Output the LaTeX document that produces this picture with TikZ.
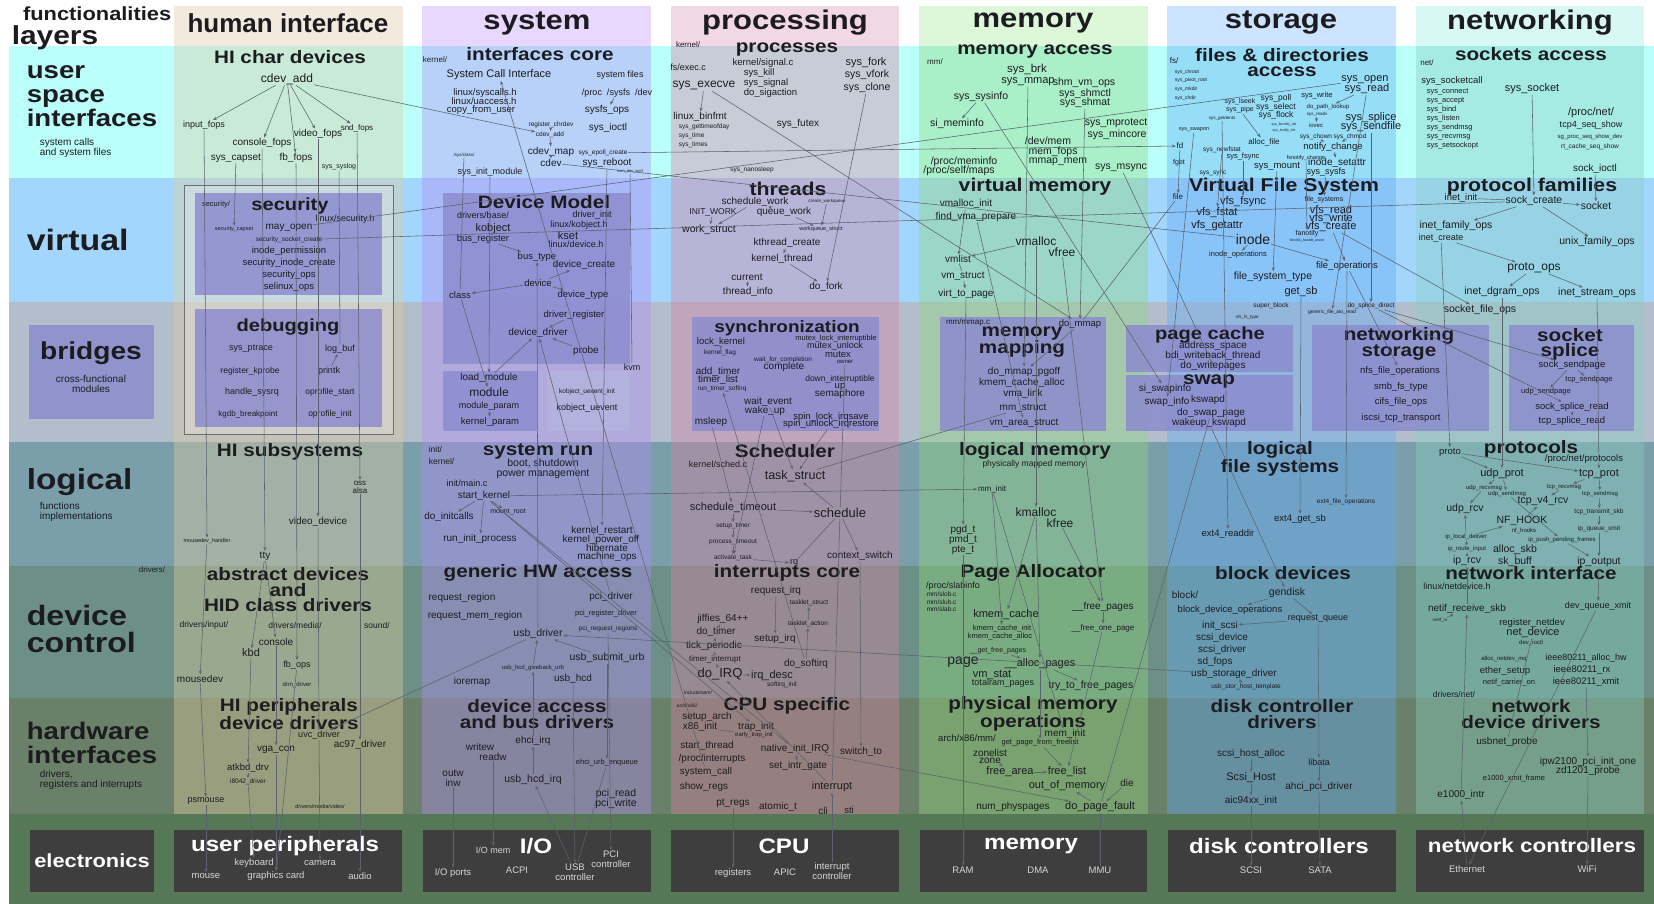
\documentclass[tikz,border=0pt]{standalone}
\usepackage{fontspec}
\setmainfont{Liberation Sans}
\newfontfamily\tf[FakeStretch=1.15]{Liberation Sans}
\usetikzlibrary{arrows.meta}
\definecolor{txt}{RGB}{28,28,32}
\definecolor{edg}{RGB}{92,98,110}
\definecolor{rU}{RGB}{186,255,250}
\definecolor{rV}{RGB}{163,214,252}
\definecolor{rB}{RGB}{178,190,204}
\definecolor{rL}{RGB}{122,158,170}
\definecolor{rD}{RGB}{108,144,134}
\definecolor{rH}{RGB}{106,128,104}
\definecolor{rE}{RGB}{86,120,86}
\definecolor{hHI}{RGB}{243,234,222}
\definecolor{hSY}{RGB}{232,216,255}
\definecolor{hPR}{RGB}{242,216,228}
\definecolor{hME}{RGB}{220,248,216}
\definecolor{hST}{RGB}{204,228,255}
\definecolor{hNE}{RGB}{216,248,245}
\definecolor{cHI}{RGB}{223,204,160}
\definecolor{cSY}{RGB}{180,140,245}
\definecolor{cPR}{RGB}{217,130,162}
\definecolor{cME}{RGB}{145,215,125}
\definecolor{cST}{RGB}{98,170,245}
\definecolor{cNE}{RGB}{135,207,193}
\definecolor{pbox}{RGB}{140,140,206}
\definecolor{frameC}{RGB}{110,110,115}
\definecolor{dark}{RGB}{62,62,62}
\definecolor{etxt}{RGB}{214,214,214}
\tikzset{
 tx/.style={inner sep=0.6pt, text=txt, align=center, font=\fontsize{10}{10}\selectfont},
 fz/.style={font=\fontsize{#1}{#1}\selectfont},
 bt/.style 2 args={font=\tf\fontsize{#1}{#2}\selectfont\bfseries},
 btn/.style 2 args={font=\fontsize{#1}{#2}\selectfont\bfseries},
 et/.style={inner sep=0.6pt, text=etxt, align=center, font=\fontsize{#1}{#1}\selectfont},
 etb/.style={inner sep=0.6pt, text=white, align=center, font=\tf\fontsize{#1}{#1}\selectfont\bfseries},
 ar/.style={draw=edg, line width=0.55pt, -{Stealth[length=4pt,width=3pt]}},
 ln/.style={draw=edg, line width=0.55pt},
 pb/.style={fill=pbox, fill opacity=0.85},
 db/.style={fill=dark},
}
\begin{document}
\begin{tikzpicture}[x=1pt,y=-1pt]
\useasboundingbox (0,0) rectangle (1654,904);
% ---------- rows
\fill[rU] (9,46) rectangle (1654,178);
\fill[rV] (9,178) rectangle (1654,302);
\fill[rB] (9,302) rectangle (1654,442);
\fill[rL] (9,442) rectangle (1654,566);
\fill[rD] (9,566) rectangle (1654,698);
\fill[rH] (9,698) rectangle (1654,814);
\fill[rE] (9,814) rectangle (1654,904);
% ---------- headers
\fill[hHI] (174,6) rectangle (403,46);
\fill[hSY] (422,6) rectangle (651,46);
\fill[hPR] (671,6) rectangle (899,46);
\fill[hME] (919,6) rectangle (1148,46);
\fill[hST] (1167,6) rectangle (1396,46);
\fill[hNE] (1416,6) rectangle (1644,46);
% ---------- column overlays
\foreach \xa/\xb/\cc in {174/403/cHI,422/651/cSY,671/899/cPR,919/1148/cME,1167/1396/cST,1416/1644/cNE}
  {\fill[fill=\cc, opacity=0.4] (\xa,46) rectangle (\xb,814);}
% ---------- bridge boxes
\fill[white, opacity=0.22] (184,185) rectangle (393,434);
\draw[frameC, line width=0.9pt] (184,185) rectangle (393,434);
\fill[pb] (195,193) rectangle (382,295);
\fill[pb] (195,309) rectangle (382,427);
\fill[pb] (29,325) rectangle (154,419);
\fill[pb] (443,193) rectangle (630,364);
\fill[pb] (443,371) rectangle (537,431);
\fill[pbox!65!white, fill opacity=0.7] (547,371) rectangle (630,431);
\fill[pb] (692,317) rectangle (879,431);
\fill[pb] (940,317) rectangle (1106,431);
\fill[pb] (1126,325) rectangle (1293,372);
\fill[pb] (1126,375) rectangle (1293,431);
\fill[pb] (1312,325) rectangle (1489,431);
\fill[pb] (1509,325) rectangle (1634,431);
% ---------- electronics boxes
\fill[db] (30,830) rectangle (154,892);
\fill[db] (174,830) rectangle (402,892);
\fill[db] (423,830) rectangle (651,892);
\fill[db] (671,830) rectangle (899,892);
\fill[db] (920,830) rectangle (1147,892);
\fill[db] (1168,830) rectangle (1396,892);
\fill[db] (1416,830) rectangle (1644,892);

% ================= left labels
\node[tx,bt={19}{19},anchor=east] (Lfunc) at (172,14) {functionalities};
\node[tx,bt={26}{26},anchor=west] (Llay) at (11,38) {layers};
\node[tx,bt={24}{24},anchor=west,align=left] (Luser) at (26,96) {user\\space\\interfaces};
\node[tx,fz=10,anchor=west,align=left] (Lusers) at (39,148) {system calls\\and system files};
\node[tx,bt={29.5}{29.5},anchor=west] (Lvirt) at (26,240) {virtual};
\node[tx,bt={24.5}{24.5}] (Lbr) at (91,353) {bridges};
\node[tx,fz=10] (Lbrs) at (91,384) {cross-functional\\modules};
\node[tx,bt={29}{29},anchor=west] (Llog) at (26,482) {logical};
\node[tx,fz=10,anchor=west,align=left] (Llogs) at (39,512) {functions\\implementations};
\node[tx,bt={28}{26.5},anchor=west,align=left] (Ldev) at (26,629) {device\\control};
\node[tx,bt={24}{24},anchor=west,align=left] (Lhw) at (26,743) {hardware\\interfaces};
\node[tx,fz=10,anchor=west,align=left] (Lhws) at (39,780) {drivers,\\registers and interrupts};
\node[etb=19] (Lel) at (92,861) {electronics};

% ================= headers text
\node[tx,btn={26}{26}] (Hhi) at (288,23) {human interface};
\node[tx,bt={27}{27}] (Hsy) at (537,23) {system};
\node[tx,bt={27}{27}] (Hpr) at (785,23) {processing};
\node[tx,bt={27}{27}] (Hme) at (1033,23) {memory};
\node[tx,bt={27}{27}] (Hst) at (1281,23) {storage};
\node[tx,bt={27}{27}] (Hne) at (1530,23) {networking};

% ================= HUMAN INTERFACE
\node[tx,bt={18}{18}] (hicd) at (290,57) {HI char devices};
\node[tx,fz=12] (hcdevadd) at (287,79) {cdev\_add};
\node[tx,fz=9] (inputfops) at (204,125) {input\_fops};
\node[tx,fz=10] (consolefops) at (262,143) {console\_fops};
\node[tx,fz=10] (videofops) at (318,134) {video\_fops};
\node[tx,fz=8] (sndfops) at (357,128) {snd\_fops};
\node[tx,fz=10] (syscapset) at (236,158) {sys\_capset};
\node[tx,fz=10] (fbfops) at (296,158) {fb\_fops};
\node[tx,fz=7] (syssyslog) at (339,167) {sys\_syslog};
\node[tx,fz=7.5] (secdir) at (216,205) {security/};
\node[tx,bt={17.5}{17.5}] (sect) at (290,206) {security};
\node[tx,fz=9] (sech) at (345,219) {linux/security.h};
\node[tx,fz=5.5] (seccapset) at (234,229) {security\_capset};
\node[tx,fz=10] (mayopen) at (289,228) {may\_open};
\node[tx,fz=6.5] (secsock) at (289,240) {security\_socket\_create};
\node[tx,fz=9.5] (inodeperm) at (289,251) {inode\_permission};
\node[tx,fz=9.5] (secinode) at (289,263) {security\_inode\_create};
\node[tx,fz=9.5] (secops) at (289,275) {security\_ops};
\node[tx,fz=9.5] (selinux) at (289,287) {selinux\_ops};
\node[tx,bt={17.5}{17.5}] (dbgt) at (288,327) {debugging};
\node[tx,fz=9] (ptrace) at (251,349) {sys\_ptrace};
\node[tx,fz=9] (logbuf) at (340,349) {log\_buf};
\node[tx,fz=8.5] (kprobe) at (250,371) {register\_kprobe};
\node[tx,fz=9] (printk) at (329,371) {printk};
\node[tx,fz=9] (sysrq) at (252,392) {handle\_sysrq};
\node[tx,fz=8.5] (opstart) at (330,392) {oprofile\_start};
\node[tx,fz=8] (kgdb) at (248,414) {kgdb\_breakpoint};
\node[tx,fz=8.5] (opinit) at (330,414) {oprofile\_init};
\node[tx,bt={18}{18}] (hisub) at (290,452) {HI subsystems};
\node[tx,fz=8] (ossalsa) at (360,487) {oss\\alsa};
\node[tx,fz=10] (videodev) at (318,522) {video\_device};
\node[tx,fz=5.5] (mousedevh) at (207,541) {mousedev\_handler};
\node[tx,fz=10] (tty) at (265,556) {tty};
\node[tx,fz=8] (drivers) at (152,570) {drivers/};
\node[tx,bt={18}{15.5}] (abst) at (288,590) {abstract devices\\and\\HID class drivers};
\node[tx,fz=8.5] (drvinput) at (204,625) {drivers/input/};
\node[tx,fz=8.5] (drvmedia) at (295,625) {drivers/media/};
\node[tx,fz=8.5] (sound) at (377,625) {sound/};
\node[tx,fz=10] (console) at (276,642) {console};
\node[tx,fz=11] (kbd) at (251,653) {kbd};
\node[tx,fz=9] (fbops) at (297,665) {fb\_ops};
\node[tx,fz=10] (mousedev) at (200,679) {mousedev};
\node[tx,fz=6] (drm) at (297,685) {drm\_driver};
\node[tx,bt={18}{16}] (hiper) at (289,714) {HI peripherals\\device drivers};
\node[tx,fz=9] (uvc) at (319,735) {uvc\_driver};
\node[tx,fz=10] (ac97) at (360,745) {ac97\_driver};
\node[tx,fz=10] (vgacon) at (276,750) {vga\_con};
\node[tx,fz=9.5] (atkbd) at (248,768) {atkbd\_drv};
\node[tx,fz=6.5] (i8042) at (248,782) {i8042\_driver};
\node[tx,fz=9] (psmouse) at (206,801) {psmouse};
\node[tx,fz=5.5] (dmv) at (320,807) {drivers/media/video/};
\node[etb=21] (uper) at (285,846) {user peripherals};
\node[et=9.5] (keyboard) at (254,863) {keyboard};
\node[et=9.5] (camera) at (320,863) {camera};
\node[et=9.5] (mouse) at (206,876) {mouse};
\node[et=9.5] (gcard) at (276,876) {graphics card};
\node[et=9.5] (audio) at (360,876) {audio};

% ================= SYSTEM
\node[tx,fz=8] (kern1) at (435,60) {kernel/};
\node[tx,bt={18}{18}] (ict) at (540,54) {interfaces core};
\node[tx,fz=11] (sci) at (499,75) {System Call Interface};
\node[tx,fz=9.5] (syscallsh) at (485,93) {linux/syscalls.h};
\node[tx,fz=9.5] (uaccessh) at (484,101) {linux/uaccess.h};
\node[tx,fz=9.5] (cfu) at (481,110) {copy\_from\_user};
\node[tx,fz=9] (sysfiles) at (620,75) {system files};
\node[tx,fz=9] (procsysfs) at (617,93) {/proc~~/sysfs~~/dev};
\node[tx,fz=10] (sysfsops) at (607,110) {sysfs\_ops};
\node[tx,fz=6.5] (regchr) at (551,125) {register\_chrdev};
\node[tx,fz=10] (sysioctl) at (608,128) {sys\_ioctl};
\node[tx,fz=6.5] (scdevadd) at (550,135) {cdev\_add};
\node[tx,fz=10] (cdevmap) at (551,152) {cdev\_map};
\node[tx,fz=6.5] (epoll) at (603,153) {sys\_epoll\_create};
\node[tx,fz=10] (cdev) at (551,163) {cdev};
\node[tx,fz=10] (sysreboot) at (607,163) {sys\_reboot};
\node[tx,fz=4.5] (sysclass) at (464,155) {/sys/class/};
\node[tx,fz=9] (sysinit) at (490,172) {sys\_init\_module};
\node[tx,fz=4] (kvmioctl) at (630,171) {kvm\_dev\_ioctl};
\node[tx,bt={18}{18}] (dmt) at (544,202) {Device Model};
\node[tx,fz=9] (drvbase) at (483,215) {drivers/base/};
\node[tx,fz=9] (drvinit) at (592,215) {driver\_init};
\node[tx,fz=11] (kobject) at (493,229) {kobject};
\node[tx,fz=9] (kobjh) at (579,225) {linux/kobject.h};
\node[tx,fz=11] (kset) at (568,236) {kset};
\node[tx,fz=9.5] (busreg) at (483,239) {bus\_register};
\node[tx,fz=9] (deviceh) at (576,244) {linux/device.h};
\node[tx,fz=9.5] (bustype) at (537,257) {bus\_type};
\node[tx,fz=10] (devcreate) at (584,265) {device\_create};
\node[tx,fz=9.5] (device) at (538,283) {device};
\node[tx,fz=9.5] (class) at (460,295) {class};
\node[tx,fz=9.5] (devtype) at (583,295) {device\_type};
\node[tx,fz=9.5] (drvreg) at (574,315) {driver\_register};
\node[tx,fz=10] (devdrv) at (538,333) {device\_driver};
\node[tx,fz=10] (probe) at (586,351) {probe};
\node[tx,fz=9] (kvm) at (632,367) {kvm};
\node[tx,fz=10] (loadmod) at (489,378) {load\_module};
\node[tx,fz=12] (module) at (489,392) {module};
\node[tx,fz=9] (modparam) at (489,406) {module\_param};
\node[tx,fz=9.5] (kparam) at (490,422) {kernel\_param};
\node[tx,fz=6.5] (kuinit) at (587,392) {kobject\_uevent\_init};
\node[tx,fz=9] (kuevent) at (587,408) {kobject\_uevent};
\node[tx,fz=8.5,anchor=west] (initd) at (428,449) {init/};
\node[tx,fz=8.5,anchor=west] (kern2) at (428,461) {kernel/};
\node[tx,bt={18}{18}] (srt) at (538,451) {system run};
\node[tx,fz=10.5,font=\fontsize{10.5}{9.8}\selectfont] (boot) at (543,469) {boot, shutdown\\power management};
\node[tx,fz=9] (mainc) at (467,483) {init/main.c};
\node[tx,fz=10] (startk) at (484,496) {start\_kernel};
\node[tx,fz=7] (mountroot) at (508,512) {mount\_root};
\node[tx,fz=10] (initcalls) at (449,517) {do\_initcalls};
\node[tx,fz=10] (runinit) at (480,539) {run\_init\_process};
\node[tx,fz=10] (krestart) at (602,531) {kernel\_restart};
\node[tx,fz=10] (kpoweroff) at (601,540) {kernel\_power\_off};
\node[tx,fz=10] (hibernate) at (607,548) {hibernate};
\node[tx,fz=10] (machops) at (607,557) {machine\_ops};
\node[tx,bt={18}{18}] (ghw) at (538,573) {generic HW access};
\node[tx,fz=10] (reqreg) at (462,598) {request\_region};
\node[tx,fz=10] (pcidrv) at (611,597) {pci\_driver};
\node[tx,fz=10] (reqmem) at (475,616) {request\_mem\_region};
\node[tx,fz=7.5] (pciregdrv) at (606,614) {pci\_register\_driver};
\node[tx,fz=6.5] (pcireqreg) at (608,629) {pci\_request\_regions};
\node[tx,fz=10.5] (usbdrv) at (538,634) {usb\_driver};
\node[tx,fz=10.5] (usbsubmit) at (607,658) {usb\_submit\_urb};
\node[tx,fz=6] (usbgive) at (533,668) {usb\_hcd\_giveback\_urb};
\node[tx,fz=10] (ioremap) at (472,682) {ioremap};
\node[tx,fz=10] (usbhcd) at (573,679) {usb\_hcd};
\node[tx,bt={18}{16}] (dab) at (537,714) {device access\\and bus drivers};
\node[tx,fz=10] (writew) at (480,747) {writew};
\node[tx,fz=10] (readw) at (493,757) {readw};
\node[tx,fz=10] (ehciirq) at (533,741) {ehci\_irq};
\node[tx,fz=7.5] (ehciurb) at (607,763) {ehci\_urb\_enqueue};
\node[tx,fz=10] (outwinw) at (453,778) {outw\\inw};
\node[tx,fz=10.5] (usbhcdirq) at (533,780) {usb\_hcd\_irq};
\node[tx,fz=10.5] (pcirw) at (616,799) {pci\_read\\pci\_write};
\node[et=9] (iomem) at (493,850) {I/O mem};
\node[etb=21] (iot) at (536,846) {I/O};
\node[et=9.5] (pcictl) at (611,859) {PCI\\controller};
\node[et=9.5] (ioports) at (453,873) {I/O ports};
\node[et=9.5] (acpi) at (517,870) {ACPI};
\node[et=9.5] (usbctl) at (575,872) {USB\\controller};

% ================= PROCESSING
\node[tx,fz=8] (kern3) at (688,45) {kernel/};
\node[tx,bt={18}{18}] (procs) at (787,50) {processes};
\node[tx,fz=9] (execc) at (688,67) {fs/exec.c};
\node[tx,fz=9.5] (signalc) at (763,63) {kernel/signal.c};
\node[tx,fz=9.5,anchor=west,align=left,font=\fontsize{9.5}{8.5}\selectfont] (sigs) at (743,83) {sys\_kill\\sys\_signal\\do\_sigaction};
\node[tx,fz=12] (sysexecve) at (704,86) {sys\_execve};
\node[tx,fz=11] (sysfork) at (866,63) {sys\_fork};
\node[tx,fz=10.5] (sysvfork) at (867,75) {sys\_vfork};
\node[tx,fz=10.5] (sysclone) at (867,88) {sys\_clone};
\node[tx,fz=10] (binfmt) at (700,117) {linux\_binfmt};
\node[tx,fz=6.5,anchor=west,align=left,font=\fontsize{6.5}{8.8}\selectfont] (systime) at (678,136) {sys\_gettimeofday\\sys\_time\\sys\_times};
\node[tx,fz=10] (sysfutex) at (798,124) {sys\_futex};
\node[tx,fz=6.5] (nanosleep) at (752,170) {sys\_nanosleep};
\node[tx,bt={18.5}{18}] (threads) at (788,189) {threads};
\node[tx,fz=10] (schedwork) at (755,202) {schedule\_work};
\node[tx,fz=4.5] (createwq) at (827,201) {create\_workqueue};
\node[tx,fz=8.5] (initwork) at (713,212) {INIT\_WORK};
\node[tx,fz=10] (queuework) at (784,212) {queue\_work};
\node[tx,fz=10.5] (workstruct) at (709,230) {work\_struct};
\node[tx,fz=5.5] (wqstruct) at (821,229) {workqueue\_struct};
\node[tx,fz=10] (kthreadc) at (787,243) {kthread\_create};
\node[tx,fz=10] (kthread) at (782,259) {kernel\_thread};
\node[tx,fz=10] (current) at (747,277) {current};
\node[tx,fz=10] (threadinfo) at (748,292) {thread\_info};
\node[tx,fz=10] (dofork) at (826,287) {do\_fork};
\node[tx,bt={16.5}{16.5}] (synct) at (787,328) {synchronization};
\node[tx,fz=9.5] (lockk) at (721,342) {lock\_kernel};
\node[tx,fz=6.5] (kflag) at (720,353) {kernel\_flag};
\node[tx,fz=7.5] (mutexli) at (836,339) {mutex\_lock\_interruptible};
\node[tx,fz=9] (mutexul) at (835,346) {mutex\_unlock};
\node[tx,fz=9.5] (mutex) at (838,354) {mutex};
\node[tx,fz=6] (owner) at (845,362) {owner};
\node[tx,fz=6.5] (waitcomp) at (783,360) {wait\_for\_completion};
\node[tx,fz=10] (complete) at (784,367) {complete};
\node[tx,fz=10] (addtimer) at (718,372) {add\_timer};
\node[tx,fz=10] (timerlist) at (718,380) {timer\_list};
\node[tx,fz=6.5] (runtimer) at (722,389) {run\_timer\_softirq};
\node[tx,fz=8.5] (downint) at (840,379) {down\_interruptible};
\node[tx,fz=9.5] (up) at (840,387) {up};
\node[tx,fz=10] (semaphore) at (840,394) {semaphore};
\node[tx,fz=10] (waitev) at (768,402) {wait\_event};
\node[tx,fz=10] (wakeup) at (765,411) {wake\_up};
\node[tx,fz=9.5] (spinlock) at (831,417) {spin\_lock\_irqsave};
\node[tx,fz=9.5] (spinunl) at (831,424) {spin\_unlock\_irqrestore};
\node[tx,fz=10] (msleep) at (711,422) {msleep};
\node[tx,bt={18}{18}] (schedt) at (785,451) {Scheduler};
\node[tx,fz=9] (schedc) at (718,464) {kernel/sched.c};
\node[tx,fz=12.5] (taskstruct) at (795,476) {task\_struct};
\node[tx,fz=11] (schedto) at (733,508) {schedule\_timeout};
\node[tx,fz=13] (schedule) at (840,513) {schedule};
\node[tx,fz=6.5] (setuptimer) at (733,526) {setup\_timer};
\node[tx,fz=6.5] (proctimeout) at (733,542) {process\_timeout};
\node[tx,fz=6.5] (acttask) at (733,558) {activate\_task};
\node[tx,fz=9] (rq) at (794,563) {rq};
\node[tx,fz=10] (ctxswitch) at (860,556) {context\_switch};
\node[tx,bt={18}{18}] (irqcore) at (787,573) {interrupts core};
\node[tx,fz=10] (reqirq) at (776,591) {request\_irq};
\node[tx,fz=6.5] (taskletst) at (809,603) {tasklet\_struct};
\node[tx,fz=6.5] (taskletact) at (808,624) {tasklet\_action};
\node[tx,fz=10] (jiffies) at (723,619) {jiffies\_64++};
\node[tx,fz=10] (dotimer) at (716,632) {do\_timer};
\node[tx,fz=10] (setupirq) at (775,639) {setup\_irq};
\node[tx,fz=10] (tickp) at (714,646) {tick\_periodic};
\node[tx,fz=8] (timerint) at (715,659) {timer\_interrupt};
\node[tx,fz=10] (dosoftirq) at (806,664) {do\_softirq};
\node[tx,fz=13] (doirq) at (720,674) {do\_IRQ};
\node[tx,fz=11] (irqdesc) at (772,676) {irq\_desc};
\node[tx,fz=6.5] (softirqinit) at (782,685) {softirq\_init};
\node[tx,fz=5] (incasm) at (698,693) {include/asm/};
\node[tx,fz=5] (archx86) at (687,706) {arch/x86/};
\node[tx,bt={18}{18}] (cpuspec) at (787,706) {CPU specific};
\node[tx,fz=10] (setuparch) at (707,717) {setup\_arch};
\node[tx,fz=10] (x86init) at (700,727) {x86\_init};
\node[tx,fz=10] (trapinit) at (756,727) {trap\_init};
\node[tx,fz=6] (earlytrap) at (754,735) {early\_trap\_init};
\node[tx,fz=10] (startthread) at (707,746) {start\_thread};
\node[tx,fz=10] (nativeirq) at (795,749) {native\_init\_IRQ};
\node[tx,fz=10] (procint) at (712,759) {/proc/interrupts};
\node[tx,fz=10] (setintr) at (798,766) {set\_intr\_gate};
\node[tx,fz=10] (switchto) at (861,752) {switch\_to};
\node[tx,fz=10] (syscall) at (706,772) {system\_call};
\node[tx,fz=11] (interrupt) at (832,787) {interrupt};
\node[tx,fz=10] (showregs) at (704,787) {show\_regs};
\node[tx,fz=10] (ptregs) at (733,803) {pt\_regs};
\node[tx,fz=10] (atomic) at (778,807) {atomic\_t};
\node[tx,fz=10] (cli) at (823,811) {cli};
\node[tx,fz=9.5] (sti) at (849,810) {sti};
\node[etb=21] (cput) at (784,846) {CPU};
\node[et=9.5] (registers) at (733,873) {registers};
\node[et=9.5] (apic) at (785,872) {APIC};
\node[et=9.5] (intctl) at (832,871) {interrupt\\controller};

% ================= MEMORY
\node[tx,fz=8] (mmdir) at (935,62) {mm/};
\node[tx,bt={18}{18}] (memacc) at (1035,52) {memory access};
\node[tx,fz=11.5] (sysbrk) at (1027,70) {sys\_brk};
\node[tx,fz=11] (sysmmap) at (1028,82) {sys\_mmap};
\node[tx,fz=10.5] (shmvm) at (1084,83) {shm\_vm\_ops};
\node[tx,fz=10.5] (sysshmctl) at (1085,94) {sys\_shmctl};
\node[tx,fz=10.5] (sysshmat) at (1085,103) {sys\_shmat};
\node[tx,fz=10.5] (syssysinfo) at (981,97) {sys\_sysinfo};
\node[tx,fz=10.5] (simeminfo) at (957,124) {si\_meminfo};
\node[tx,fz=10.5] (sysmprot) at (1116,123) {sys\_mprotect};
\node[tx,fz=10.5] (sysmincore) at (1117,135) {sys\_mincore};
\node[tx,fz=10.5] (devmem) at (1048,141) {/dev/mem};
\node[tx,fz=10.5] (memfops) at (1053,152) {mem\_fops};
\node[tx,fz=10.5] (mmapmem) at (1058,162) {mmap\_mem};
\node[tx,fz=10.5] (procmeminfo) at (964,162) {/proc/meminfo};
\node[tx,fz=10.5] (procself) at (959,171) {/proc/self/maps};
\node[tx,fz=10.5] (sysmsync) at (1121,168) {sys\_msync};
\node[tx,bt={18.5}{18}] (vmt) at (1035,187) {virtual memory};
\node[tx,fz=10] (vmallocinit) at (966,204) {vmalloc\_init};
\node[tx,fz=10] (findvma) at (976,217) {find\_vma\_prepare};
\node[tx,fz=12] (vmalloc) at (1036,241) {vmalloc};
\node[tx,fz=12] (vfree) at (1062,252) {vfree};
\node[tx,fz=10] (vmlist) at (958,259) {vmlist};
\node[tx,fz=10] (vmstruct) at (963,276) {vm\_struct};
\node[tx,fz=10] (virttopage) at (966,294) {virt\_to\_page};
\node[tx,fz=8] (mmapc) at (968,322) {mm/mmap.c};
\node[tx,fz=9.5] (domap) at (1080,324) {do\_mmap};
\node[tx,bt={18}{15}] (mmapt) at (1022,342) {memory\\mapping};
\node[tx,fz=10] (dommappgoff) at (1024,372) {do\_mmap\_pgoff};
\node[tx,fz=10] (kmemcalloc1) at (1022,383) {kmem\_cache\_alloc};
\node[tx,fz=10] (vmalink) at (1023,394) {vma\_link};
\node[tx,fz=10] (mmstruct) at (1023,408) {mm\_struct};
\node[tx,fz=10] (vmarea) at (1024,423) {vm\_area\_struct};
\node[tx,bt={18}{18}] (logmem) at (1035,451) {logical memory};
\node[tx,fz=8.5] (physmapped) at (1034,464) {physically mapped memory};
\node[tx,fz=8] (mminit) at (992,489) {mm\_init};
\node[tx,fz=12] (kmalloc) at (1036,512) {kmalloc};
\node[tx,fz=12] (kfree) at (1060,523) {kfree};
\node[tx,fz=10,font=\fontsize{10}{8}\selectfont] (pte) at (963,540) {pgd\_t\\pmd\_t\\pte\_t};
\node[tx,bt={18}{18}] (pagealloc) at (1033,573) {Page Allocator};
\node[tx,fz=9] (slabinfo) at (953,586) {/proc/slabinfo};
\node[tx,fz=6.5,anchor=west,align=left,font=\fontsize{6.5}{7.5}\selectfont] (slabc) at (926,602) {mm/slob.c\\mm/slub.c\\mm/slab.c};
\node[tx,fz=10] (freepages) at (1103,607) {\_\_free\_pages};
\node[tx,fz=11] (kmemcache) at (1006,615) {kmem\_cache};
\node[tx,fz=8] (freeone) at (1103,628) {\_\_free\_one\_page};
\node[tx,fz=7.5] (kmemcinit) at (1002,629) {kmem\_cache\_init};
\node[tx,fz=7.5] (kmemcalloc) at (1000,637) {kmem\_cache\_alloc};
\node[tx,fz=7] (getfree) at (998,651) {\_\_get\_free\_pages};
\node[tx,fz=14] (page) at (963,662) {page};
\node[tx,fz=11] (allocpages) at (1040,664) {\_\_alloc\_pages};
\node[tx,fz=11] (vmstat) at (992,675) {vm\_stat};
\node[tx,fz=9] (totalram) at (1003,683) {totalram\_pages};
\node[tx,fz=10.5] (trytofree) at (1091,686) {try\_to\_free\_pages};
\node[tx,bt={18}{16}] (physt) at (1033,714) {physical memory\\operations};
\node[tx,fz=9.5] (archmm) at (967,738) {arch/x86/mm/};
\node[tx,fz=10] (meminit) at (1065,734) {mem\_init};
\node[tx,fz=7.5] (getpage) at (1040,743) {get\_page\_from\_freelist};
\node[tx,fz=10,font=\fontsize{10}{7}\selectfont] (zone) at (990,756) {zonelist\\zone};
\node[tx,fz=11] (freearea) at (1010,772) {free\_area};
\node[tx,fz=11] (freelist) at (1067,772) {free\_list};
\node[tx,fz=11] (oom) at (1067,786) {out\_of\_memory};
\node[tx,fz=10] (die) at (1127,783) {die};
\node[tx,fz=10] (numphys) at (1013,807) {num\_physpages};
\node[tx,fz=11] (dopagefault) at (1100,807) {do\_page\_fault};
\node[etb=21] (memt) at (1031,846) {memory};
\node[et=9.5] (ram) at (963,870) {RAM};
\node[et=9.5] (dma) at (1038,870) {DMA};
\node[et=9.5] (mmu) at (1100,870) {MMU};

% ================= STORAGE
\node[tx,fz=8] (fsdir) at (1174,61) {fs/};
\node[tx,bt={18}{15}] (fdacc) at (1282,63) {files \& directories\\access};
\node[tx,fz=5,anchor=west,align=left,font=\fontsize{5}{8.7}\selectfont] (sysdirs) at (1174,85) {sys\_chroot\\sys\_pivot\_root\\sys\_mkdir\\sys\_chdir};
\node[tx,fz=11] (sysopen) at (1365,80) {sys\_open};
\node[tx,fz=11] (sysread) at (1367,89) {sys\_read};
\node[tx,fz=7] (syslseek) at (1240,102) {sys\_lseek};
\node[tx,fz=7] (syspipe) at (1240,110) {sys\_pipe};
\node[tx,fz=4.5] (sysgetdents) at (1222,118) {sys\_getdents};
\node[tx,fz=8.5,font=\fontsize{8.5}{8.5}\selectfont] (syspoll) at (1276,107) {sys\_poll\\sys\_select\\sys\_flock};
\node[tx,fz=7.5] (syswrite) at (1317,96) {sys\_write};
\node[tx,fz=6] (dopath) at (1328,107) {do\_path\_lookup};
\node[tx,fz=4.5] (sysreadv) at (1317,114) {sys\_readv};
\node[tx,fz=6] (iovec) at (1316,125) {iovec};
\node[tx,fz=3.5,font=\fontsize{3.5}{6}\selectfont] (sysfan) at (1284,128) {sys\_fanotify\_init\\sys\_inotify\_init};
\node[tx,fz=11] (syssplice) at (1371,118) {sys\_splice};
\node[tx,fz=11] (syssendfile) at (1371,127) {sys\_sendfile};
\node[tx,fz=5.5] (sysswapon) at (1194,130) {sys\_swapon};
\node[tx,fz=8] (allocfile) at (1264,142) {alloc\_file};
\node[tx,fz=6.5] (syschown) at (1316,137) {sys\_chown};
\node[tx,fz=6.5] (syschmod) at (1350,137) {sys\_chmod};
\node[tx,fz=9.5] (notify) at (1333,147) {notify\_change};
\node[tx,fz=8] (fd) at (1180,146) {fd};
\node[tx,fz=6.5] (sysnewfstat) at (1222,150) {sys\_newfstat};
\node[tx,fz=7.5] (sysfsync) at (1243,157) {sys\_fsync};
\node[tx,fz=7] (fget) at (1179,163) {fget};
\node[tx,fz=9.5] (sysmount) at (1277,166) {sys\_mount};
\node[tx,fz=5.5] (fsnotifych) at (1306,158) {fsnotify\_change};
\node[tx,fz=10] (inodesetattr) at (1337,163) {inode\_setattr};
\node[tx,fz=9] (syssysfs) at (1326,172) {sys\_sysfs};
\node[tx,fz=6.5] (syssync) at (1213,173) {sys\_sync};
\node[tx,bt={18.5}{18}] (vfst) at (1284,187) {Virtual File System};
\node[tx,fz=8] (file) at (1178,197) {file};
\node[tx,fz=11] (vfsfsync) at (1243,202) {vfs\_fsync};
\node[tx,fz=7] (filesystems) at (1324,200) {file\_systems};
\node[tx,fz=11] (vfsfstat) at (1217,213) {vfs\_fstat};
\node[tx,fz=11] (vfsread) at (1331,211) {vfs\_read};
\node[tx,fz=11] (vfswrite) at (1331,219) {vfs\_write};
\node[tx,fz=11] (vfscreate) at (1331,227) {vfs\_create};
\node[tx,fz=11] (vfsgetattr) at (1217,226) {vfs\_getattr};
\node[tx,fz=7] (fanotify) at (1307,234) {fanotify};
\node[tx,fz=3.5] (fshandle) at (1307,241) {fsnotify\_handle\_event};
\node[tx,fz=14] (inode) at (1253,239) {inode};
\node[tx,fz=7.5] (inodeops) at (1238,255) {inode\_operations};
\node[tx,fz=9.5] (fileops) at (1347,266) {file\_operations};
\node[tx,fz=10.5] (fstype) at (1273,277) {file\_system\_type};
\node[tx,fz=11] (getsb) at (1301,292) {get\_sb};
\node[tx,fz=6.5] (superblock) at (1271,306) {super\_block};
\node[tx,fz=4.5] (nfsfstype) at (1247,317) {nfs\_fs\_type};
\node[tx,fz=5] (genaio) at (1332,312) {generic\_file\_aio\_read};
\node[tx,fz=6.5] (dosplice) at (1371,306) {do\_splice\_direct};
\node[tx,bt={17.5}{17.5}] (pct) at (1210,335) {page cache};
\node[tx,fz=10,font=\fontsize{10}{8}\selectfont] (pcache) at (1213,356) {address\_space\\bdi\_writeback\_thread\\do\_writepages};
\coordinate (dowritepages) at (1213,365);
\node[tx,bt={18}{18}] (swapt) at (1209,382) {swap};
\node[tx,fz=10] (siswapinfo) at (1165,389) {si\_swapinfo};
\node[tx,fz=10] (swapinfo) at (1167,402) {swap\_info};
\node[tx,fz=10] (kswapd) at (1208,400) {kswapd};
\node[tx,fz=10] (doswap) at (1211,413) {do\_swap\_page};
\node[tx,fz=10] (wakeupk) at (1209,423) {wakeup\_kswapd};
\node[tx,bt={18}{15}] (netst) at (1399,344) {networking\\storage};
\node[tx,fz=9.5] (nfsfileops) at (1400,371) {nfs\_file\_operations};
\node[tx,fz=9.5] (smbfs) at (1401,387) {smb\_fs\_type};
\node[tx,fz=9.5] (cifs) at (1401,402) {cifs\_file\_ops};
\node[tx,fz=9.5] (iscsi) at (1401,418) {iscsi\_tcp\_transport};
\node[tx,bt={18}{15}] (logfs) at (1280,459) {logical\\file systems};
\node[tx,fz=6.5] (ext4fileops) at (1346,502) {ext4\_file\_operations};
\node[tx,fz=9.5] (ext4getsb) at (1300,519) {ext4\_get\_sb};
\node[tx,fz=9.5] (ext4readdir) at (1228,534) {ext4\_readdir};
\node[tx,bt={18}{18}] (blkdev) at (1283,573) {block devices};
\node[tx,fz=10] (blockd) at (1185,595) {block/};
\node[tx,fz=10.5] (gendisk) at (1287,593) {gendisk};
\node[tx,fz=9.5] (blockdevops) at (1230,610) {block\_device\_operations};
\node[tx,fz=9] (reqqueue) at (1318,619) {request\_queue};
\node[tx,fz=10] (initscsi) at (1220,626) {init\_scsi};
\node[tx,fz=10] (scsidev) at (1222,638) {scsi\_device};
\node[tx,fz=10] (scsidrv) at (1222,650) {scsi\_driver};
\node[tx,fz=10] (sdfops) at (1215,662) {sd\_fops};
\node[tx,fz=10] (usbstor) at (1234,674) {usb\_storage\_driver};
\node[tx,fz=6.5] (usbstortmpl) at (1246,687) {usb\_stor\_host\_template};
\node[tx,bt={18}{16}] (diskct) at (1282,714) {disk controller\\drivers};
\node[tx,fz=10] (scsialloc) at (1251,754) {scsi\_host\_alloc};
\node[tx,fz=9] (libata) at (1319,762) {libata};
\node[tx,fz=11] (scsihost) at (1251,778) {Scsi\_Host};
\node[tx,fz=10] (ahci) at (1319,787) {ahci\_pci\_driver};
\node[tx,fz=10] (aic) at (1251,801) {aic94xx\_init};
\node[etb=21] (diskt) at (1279,846) {disk controllers};
\node[et=9.5] (scsi) at (1251,870) {SCSI};
\node[et=9.5] (sata) at (1320,870) {SATA};

% ================= NETWORKING
\node[tx,fz=8] (netdir) at (1427,63) {net/};
\node[tx,bt={18}{18}] (sockacc) at (1531,54) {sockets access};
\node[tx,fz=9.5] (socketcall) at (1452,81) {sys\_socketcall};
\node[tx,fz=7.5,anchor=west,align=left,font=\fontsize{7.5}{9}\selectfont] (sockcalls) at (1426,119) {sys\_connect\\sys\_accept\\sys\_bind\\sys\_listen\\sys\_sendmsg\\sys\_recvmsg\\sys\_setsockopt};
\node[tx,fz=11] (syssocket) at (1532,89) {sys\_socket};
\node[tx,fz=11] (procnet) at (1591,113) {/proc/net/};
\node[tx,fz=9] (tcp4seq) at (1591,125) {tcp4\_seq\_show};
\node[tx,fz=6] (sgproc) at (1590,137) {sg\_proc\_seq\_show\_dev};
\node[tx,fz=6.5] (rtcache) at (1590,147) {rt\_cache\_seq\_show};
\node[tx,fz=10] (sockioctl) at (1595,169) {sock\_ioctl};
\node[tx,bt={18.5}{18}] (protfam) at (1532,187) {protocol families};
\node[tx,fz=9.5] (inetinit) at (1461,198) {inet\_init};
\node[tx,fz=10.5] (sockcreate) at (1534,201) {sock\_create};
\node[tx,fz=10.5] (socket) at (1596,206) {socket};
\node[tx,fz=10.5] (inetfam) at (1456,226) {inet\_family\_ops};
\node[tx,fz=9] (inetcreate) at (1441,238) {inet\_create};
\node[tx,fz=10.5] (unixfam) at (1597,242) {unix\_family\_ops};
\node[tx,fz=12] (protoops) at (1534,268) {proto\_ops};
\node[tx,fz=10.5] (inetdgram) at (1502,292) {inet\_dgram\_ops};
\node[tx,fz=10.5] (inetstream) at (1597,293) {inet\_stream\_ops};
\node[tx,fz=10.5] (sockfileops) at (1480,310) {socket\_file\_ops};
\node[tx,bt={18}{15}] (sockspl) at (1570,344) {socket\\splice};
\node[tx,fz=9.5] (socksendpage) at (1572,365) {sock\_sendpage};
\node[tx,fz=7.5] (tcpsendpage) at (1589,380) {tcp\_sendpage};
\node[tx,fz=7.5] (udpsendpage) at (1546,392) {udp\_sendpage};
\node[tx,fz=9.5] (socksplread) at (1572,407) {sock\_splice\_read};
\node[tx,fz=9.5] (tcpsplread) at (1572,421) {tcp\_splice\_read};
\node[tx,fz=9.5] (proto) at (1450,452) {proto};
\node[tx,bt={18}{18}] (protocols) at (1531,449) {protocols};
\node[tx,fz=9.5] (procnetprot) at (1584,459) {/proc/net/protocols};
\node[tx,fz=11] (udpprot) at (1502,474) {udp\_prot};
\node[tx,fz=11] (tcpprot) at (1599,474) {tcp\_prot};
\node[tx,fz=6] (udprecv) at (1484,488) {udp\_recvmsg};
\node[tx,fz=6] (udpsend) at (1507,494) {udp\_sendmsg};
\node[tx,fz=6] (tcprecv) at (1564,487) {tcp\_recvmsg};
\node[tx,fz=6] (tcpsend) at (1600,494) {tcp\_sendmsg};
\node[tx,fz=10.5] (tcpv4) at (1543,501) {tcp\_v4\_rcv};
\node[tx,fz=10.5] (udprcv) at (1465,509) {udp\_rcv};
\node[tx,fz=6.5] (tcptx) at (1599,512) {tcp\_transmit\_skb};
\node[tx,fz=10.5] (nfhook) at (1522,521) {NF\_HOOK};
\node[tx,fz=6] (nfhooks) at (1524,531) {nf\_hooks};
\node[tx,fz=6.5] (ipqx) at (1599,529) {ip\_queue\_xmit};
\node[tx,fz=6] (iplocal) at (1466,537) {ip\_local\_deliver};
\node[tx,fz=6] (ippush) at (1562,540) {ip\_push\_pending\_frames};
\node[tx,fz=6] (iproute) at (1467,549) {ip\_route\_input};
\node[tx,fz=10.5] (allocskb) at (1515,550) {alloc\_skb};
\node[tx,fz=10.5] (iprcv) at (1467,561) {ip\_rcv};
\node[tx,fz=10.5] (skbuff) at (1515,562) {sk\_buff};
\node[tx,fz=10.5] (ipout) at (1599,562) {ip\_output};
\node[tx,bt={18}{18}] (netif) at (1531,573) {network interface};
\node[tx,fz=9] (netdevh) at (1457,586) {linux/netdevice.h};
\node[tx,fz=9] (devqx) at (1598,606) {dev\_queue\_xmit};
\node[tx,fz=10] (netifrecv) at (1467,609) {netif\_receive\_skb};
\node[tx,fz=4.5] (netifrx) at (1440,620) {netif\_rx};
\node[tx,fz=9.5] (regnetdev) at (1532,623) {register\_netdev};
\node[tx,fz=11] (netdev) at (1533,633) {net\_device};
\node[tx,fz=6] (devioctl) at (1531,643) {dev\_ioctl};
\node[tx,fz=6] (allocnetdev) at (1504,659) {alloc\_netdev\_mq};
\node[tx,fz=9] (ieeealloc) at (1586,658) {ieee80211\_alloc\_hw};
\node[tx,fz=9.5] (ethersetup) at (1505,671) {ether\_setup};
\node[tx,fz=9.5] (ieeerx) at (1582,670) {ieee80211\_rx};
\node[tx,fz=7.5] (carrier) at (1509,683) {netif\_carrier\_on};
\node[tx,fz=9.5] (ieeexmit) at (1586,682) {ieee80211\_xmit};
\node[tx,fz=8.5] (drvnet) at (1454,694) {drivers/net/};
\node[tx,bt={18}{16}] (netdd) at (1531,714) {network\\device drivers};
\node[tx,fz=10] (usbnet) at (1507,742) {usbnet\_probe};
\node[tx,fz=10] (ipw) at (1588,762) {ipw2100\_pci\_init\_one};
\node[tx,fz=10] (zd) at (1588,771) {zd1201\_probe};
\node[tx,fz=7.5] (e1000tx) at (1514,779) {e1000\_xmit\_frame};
\node[tx,fz=10] (e1000intr) at (1461,795) {e1000\_intr};
\node[etb=19.5] (netct) at (1532,846) {network controllers};
\node[et=9.5] (ethernet) at (1467,869) {Ethernet};
\node[et=9.5] (wifi) at (1587,869) {WiFi};

% ================= CONNECTORS
% human interface
\draw[ar] (hcdevadd) -- (inputfops);
\draw[ar] (hcdevadd) -- (consolefops);
\draw[ar] (hcdevadd) -- (fbfops);
\draw[ar] (hcdevadd) -- (videofops);
\draw[ar] (hcdevadd) -- (sndfops);
\draw[ar] (hcdevadd) -- (scdevadd);
\draw[ar] (syscapset) -- (seccapset);
\draw[ln] (syssyslog) -- (logbuf);
\draw[ar] (printk) -- (logbuf);
\draw[ar] (inputfops) -- (mousedevh);
\draw[ar] (mousedevh) -- (mousedev);
\draw[ar] (mousedev) -- (psmouse);
\draw[ar] (psmouse) -- (mouse);
\draw[ar] (consolefops) -- (tty);
\draw[ar] (tty) -- (kbd);
\draw[ar] (kbd) -- (atkbd);
\draw[ar] (atkbd) -- (i8042);
\draw[ar] (i8042) -- (keyboard);
\draw[ar] (tty) -- (console);
\draw[ar] (console) -- (vgacon);
\draw[ar] (vgacon) -- (gcard);
\draw[ar] (fbfops) -- (fbops);
\draw[ar] (fbops) -- (gcard);
\draw[ar] (videofops) -- (videodev);
\draw[ar] (videodev) -- (uvc);
\draw[ar] (uvc) -- (camera);
\draw[ar] (sndfops) -- (ossalsa);
\draw[ar] (ossalsa) -- (ac97);
\draw[ar] (ac97) -- (audio);
\draw[ln] (mayopen) -- (sysopen);
\draw[ln] (secsock) -- (sockcreate);
% system
\draw[ar] (procsysfs) -- (sysfsops);
\draw[ar] (regchr) -- (scdevadd);
\draw[ar] (scdevadd) -- (cdevmap);
\draw[ar] (cdevmap) -- (cdev);
\draw[ar] (epoll) -- (fd);
\draw[ln] (cdev) -- (inode);
\draw[ar] (sysinit) -- (loadmod);
\draw[ln] (kvmioctl) -- (kvm);
\draw[ln] (sysclass) -- (class);
\draw[ar] (class) -- (module);
\draw[ar] (busreg) -- (bustype);
\draw[ar] (device) -- (devcreate);
\draw[ar] (device) -- (class);
\draw[ar] (device) -- (devtype);
\draw[ar] (drvreg) -- (devdrv);
\draw[ar] (probe) -- (devdrv);
\draw[ar] (loadmod) -- (devdrv);
\draw[ar] (modparam) -- (kparam);
\draw[ar] (pcidrv) -- (devdrv);
\draw[ar] (usbdrv) -- (bustype);
\draw[ar] (sysreboot) -- (krestart);
\draw[ar] (syscall) -- (sci);
\draw[ar] (startk) -- (initcalls);
\draw[ar] (startk) -- (runinit);
\draw[ar] (startk) -- (mountroot);
\draw[ar] (startk) -- (mminit);
\draw[ar] (startk) -- (trapinit);
\draw[ar] (startk) -- (nativeirq);
\draw[ar] (usbsubmit) -- (usbdrv);
\draw[ar] (usbgive) -- (usbdrv);
\draw[ar] (usbdrv) -- (uvc);
\draw[ar] (usbstor) -- (usbdrv);
\draw[ar] (usbsubmit) -- (ehciurb);
\draw[ar] (pcireqreg) -- (pcictl);
\draw[ar] (usbhcd) -- (usbctl);
\draw[ar] (usbhcdirq) -- (ehciirq);
\draw[ar] (ehciirq) -- (usbgive);
\draw[ar] (usbctl) -- (usbhcdirq);
\draw[ln] (usbctl) -- (ehciurb);
\draw[ar] (readw) -- (iomem);
\draw[ar] (outwinw) -- (ioports);
% processing
\draw[ar] (sysexecve) -- (binfmt);
\draw[ar] (sysexecve) -- (domap);
\draw[ar] (sysclone) -- (dofork);
\draw[ar] (schedwork) -- (workstruct);
\draw[ar] (schedwork) -- (queuework);
\draw[ar] (initwork) -- (workstruct);
\draw[ar] (queuework) -- (wqstruct);
\draw[ar] (createwq) -- (wqstruct);
\draw[ar] (kthreadc) -- (kthread);
\draw[ar] (kthread) -- (dofork);
\draw[ar] (current) -- (threadinfo);
\draw[ar] (lockk) -- (kflag);
\draw[ar] (msleep) -- (schedto);
\draw[ar] (wakeup) -- (acttask);
\draw[ar] (spinunl) -- (taskstruct);
\draw[ar] (waitev) -- (taskstruct);
\draw[ln] (owner) -- (schedule);
\draw[ar] (schedto) -- (setuptimer);
\draw[ar] (setuptimer) -- (proctimeout);
\draw[ar] (proctimeout) -- (acttask);
\draw[ar] (schedto) -- (schedule);
\draw[ar] (acttask) -- (rq);
\draw[ln] (rq) -- (schedule);
\draw[ar] (schedule) -- (ctxswitch);
\draw[ar] (schedule) -- (taskstruct);
\draw[ln] (mmstruct) -- (taskstruct);
\draw[ar] (ctxswitch) -- (switchto);
\draw[ar] (dosoftirq) -- (runtimer);
\draw[ar] (reqirq) -- (setupirq);
\draw[ar] (dotimer) -- (jiffies);
\draw[ar] (tickp) -- (dotimer);
\draw[ar] (timerint) -- (tickp);
\draw[ar] (doirq) -- (timerint);
\draw[ar] (doirq) -- (irqdesc);
\draw[ar] (taskletact) -- (taskletst);
\draw[ar] (dosoftirq) -- (taskletact);
\draw[ar] (interrupt) -- (doirq);
\draw[ar] (intctl) -- (interrupt);
\draw[ln] (interrupt) -- (schedule);
\draw[ar] (ptregs) -- (registers);
\draw[ar] (nativeirq) -- (setintr);
\draw[ar] (nativeirq) -- (dopagefault);
\draw[ln] (x86init) -- (earlytrap);
% memory
\draw[ar] (syssysinfo) -- (simeminfo);
\draw[ar] (syssysinfo) -- (siswapinfo);
\draw[ar] (sysmmap) -- (dommappgoff);
\draw[ar] (sysshmat) -- (domap);
\draw[ar] (domap) -- (dommappgoff);
\draw[ln] (domap) -- (file);
\draw[ar] (vmallocinit) -- (vmlist);
\draw[ar] (vmalloc) -- (vmlist);
\draw[ln] (vmlist) -- (vmstruct);
\draw[ar] (vmstruct) -- (virttopage);
\draw[ar] (virttopage) -- (pte);
\draw[ar] (pte) -- (ram);
\draw[ar] (vmalloc) -- (kmalloc);
\draw[ar] (vfree) -- (freepages);
\draw[ar] (kfree) -- (freepages);
\draw[ar] (kmalloc) -- (kmemcache);
\draw[ar] (kmalloc) -- (allocpages);
\draw[ar] (allocpages) -- (getpage);
\draw[ar] (mminit) -- (kmemcinit);
\draw[ar] (mminit) -- (meminit);
\draw[ar] (findvma) -- (vmarea);
\draw[ar] (freepages) -- (freeone);
\draw[ar] (freeone) -- (freelist);
\draw[ar] (getfree) -- (allocpages);
\draw[ar] (allocpages) -- (trytofree);
\draw[ar] (zone) -- (freearea);
\draw[ar] (freearea) -- (freelist);
\draw[ar] (getpage) -- (freelist);
\draw[ar] (dopagefault) -- (oom);
\draw[ar] (die) -- (dopagefault);
\draw[ar] (mmu) -- (dopagefault);
\draw[ln] (dopagefault) -- (doswap);
\draw[ar] (sysmsync) -- (dowritepages);
\draw[ar] (wakeupk) -- (gendisk);
\draw[ar] (sysswapon) -- (swapinfo);
\draw[ar] (sysgetdents) -- (ext4readdir);
% storage
\draw[ar] (sysread) -- (dopath);
\draw[ar] (sysreadv) -- (iovec);
\draw[ar] (syschown) -- (notify);
\draw[ar] (syschmod) -- (notify);
\draw[ar] (notify) -- (inodesetattr);
\draw[ar] (syspipe) -- (allocfile);
\draw[ar] (sysread) -- (genaio);
\draw[ar] (syssendfile) -- (dosplice);
\draw[ar] (fd) -- (file);
\draw[ar] (sysnewfstat) -- (vfsfstat);
\draw[ar] (sysfsync) -- (vfsfsync);
\draw[ar] (sysmount) -- (fstype);
\draw[ar] (fsnotifych) -- (fanotify);
\draw[ar] (syssysfs) -- (filesystems);
\draw[ar] (inode) -- (inodeops);
\draw[ar] (inode) -- (fileops);
\draw[ar] (vfscreate) -- (fileops);
\draw[ar] (vfscreate) -- (sockfileops);
\draw[ar] (getsb) -- (ext4getsb);
\draw[ar] (fileops) -- (ext4fileops);
\draw[ar] (fileops) -- (nfsfileops);
\draw[ar] (dosplice) -- (socksendpage);
\draw[ar] (dosplice) -- (socksplread);
\draw[ar] (socksendpage) -- (tcpsendpage);
\draw[ar] (socksendpage) -- (udpsendpage);
\draw[ar] (socksplread) -- (tcpsplread);
\draw[ar] (gendisk) -- (blockdevops);
\draw[ar] (gendisk) -- (reqqueue);
\draw[ar] (reqqueue) -- (initscsi);
\draw[ar] (reqqueue) -- (libata);
\draw[ar] (libata) -- (ahci);
\draw[ar] (ahci) -- (sata);
\draw[ar] (usbstor) -- (usbstortmpl);
\draw[ar] (scsialloc) -- (scsihost);
\draw[ar] (scsihost) -- (aic);
\draw[ar] (aic) -- (scsi);
% networking
\draw[ar] (syssocket) -- (sockcreate);
\draw[ar] (sockioctl) -- (socket);
\draw[ln] (inetinit) -- (sockcreate);
\draw[ar] (sockcreate) -- (socket);
\draw[ar] (sockcreate) -- (inetfam);
\draw[ar] (sockcreate) -- (unixfam);
\draw[ar] (inetcreate) -- (protoops);
\draw[ar] (protoops) -- (inetdgram);
\draw[ar] (protoops) -- (inetstream);
\draw[ar] (inetcreate) -- (proto);
\draw[ar] (inetdgram) -- (udpprot);
\draw[ar] (inetstream) -- (tcpprot);
\draw[ar] (proto) -- (udpprot);
\draw[ar] (proto) -- (tcpprot);
\draw[ar] (udpprot) -- (udprecv);
\draw[ar] (udpprot) -- (udpsend);
\draw[ar] (udprecv) -- (udprcv);
\draw[ar] (tcpprot) -- (tcprecv);
\draw[ar] (tcpprot) -- (tcpsend);
\draw[ar] (tcprecv) -- (tcpv4);
\draw[ar] (tcpsend) -- (tcptx);
\draw[ar] (tcptx) -- (ipqx);
\draw[ar] (ipqx) -- (ipout);
\draw[ar] (iplocal) -- (udprcv);
\draw[ar] (iplocal) -- (nfhook);
\draw[ar] (nfhook) -- (tcpv4);
\draw[ar] (udpsend) -- (ippush);
\draw[ar] (ippush) -- (ipout);
\draw[ar] (allocskb) -- (skbuff);
\draw[ar] (iproute) -- (iplocal);
\draw[ar] (iprcv) -- (iproute);
\draw[ar] (netifrecv) -- (iprcv);
\draw[ar] (netifrx) -- (netifrecv);
\draw[ar] (ipout) -- (devqx);
\draw[ar] (devqx) -- (ethernet);
\draw[ar] (ethernet) -- (e1000intr);
\draw[ar] (e1000intr) -- (netifrecv);
\draw[ln] (usbnet) -- (netdev);
\draw[ar] (ieeexmit) -- (ipw);
\draw[ar] (zd) -- (wifi);
\end{tikzpicture}
\end{document}
